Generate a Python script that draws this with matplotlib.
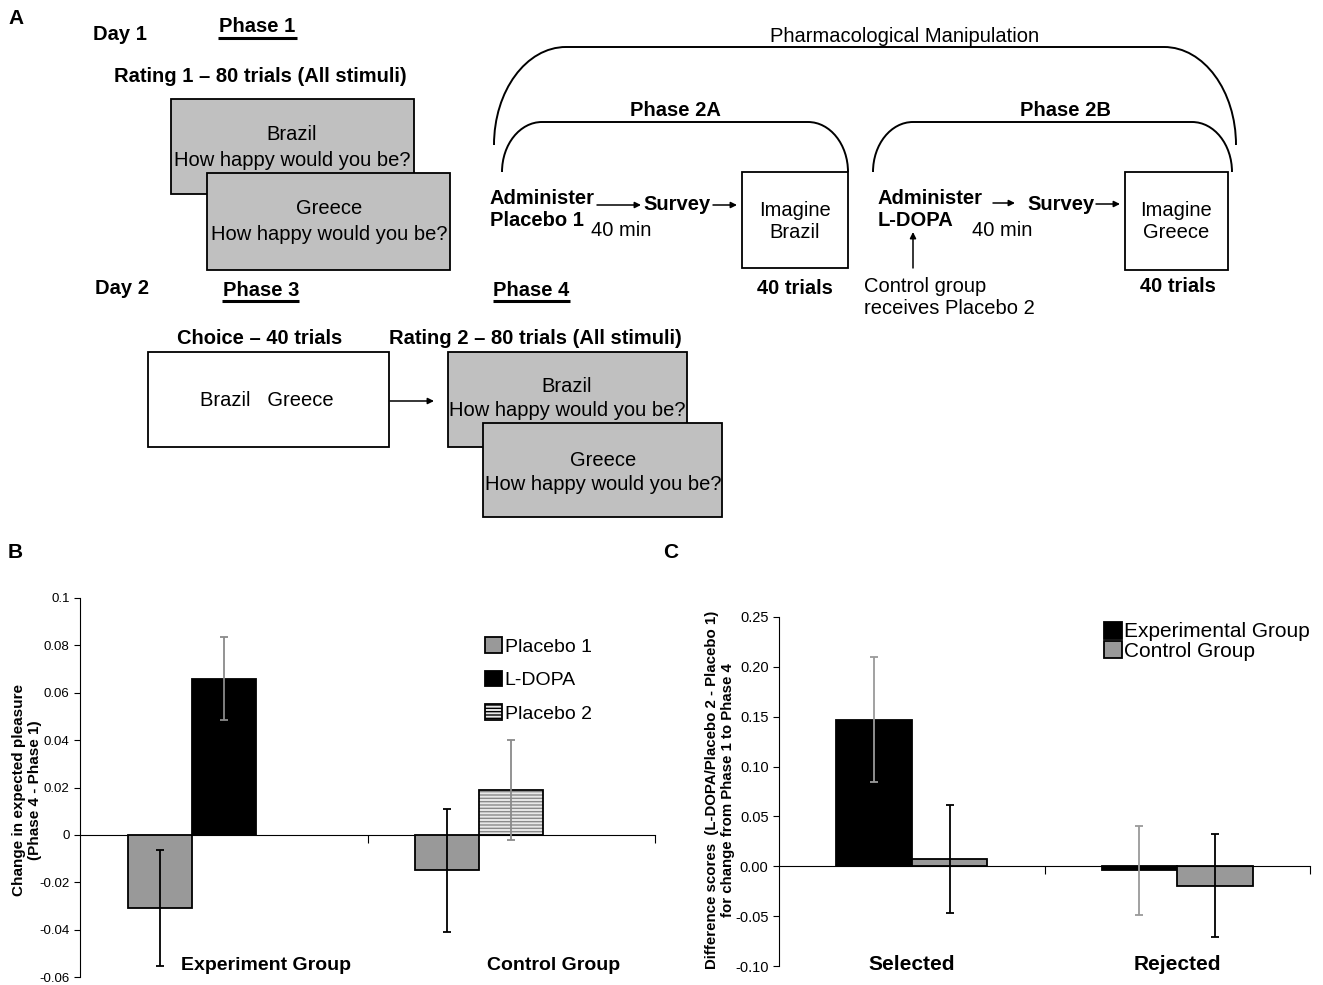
import numpy as np
import matplotlib
matplotlib.use('Agg')
import matplotlib.pyplot as plt
import matplotlib.transforms as mtransforms
from matplotlib.patches import Rectangle, Patch, PathPatch
from matplotlib.path import Path

plt.rcParams['font.family'] = ['Liberation Sans', 'DejaVu Sans']

# ---- data, panel B ----
groups_b = ['Experiment Group', 'Control Group']
placebo1_b = [-0.031, -0.015]
placebo1_err_b = [0.0245, 0.026]
# second drug slot: L-DOPA for the experiment group, Placebo 2 for control
drug_b = [0.066, 0.019]
drug_err_b = [0.0175, 0.021]
legend_b = ['Placebo 1', 'L-DOPA', 'Placebo 2']
yticks_b = [-0.06, -0.04, -0.02, 0, 0.02, 0.04, 0.06, 0.08, 0.1]
yticklabels_b = ['-0.06', '-0.04', '-0.02', '0', '0.02', '0.04', '0.06', '0.08', '0.1']

# ---- data, panel C ----
conds_c = ['Selected', 'Rejected']
exp_c = [0.147, -0.004]
exp_err_c = [0.0625, 0.0445]
ctrl_c = [0.007, -0.0195]
ctrl_err_c = [0.054, 0.0515]
legend_c = ['Experimental Group', 'Control Group']
yticks_c = [-0.10, -0.05, 0.0, 0.05, 0.10, 0.15, 0.20, 0.25]

GREY = '#999999'
W, H = 1323, 985
fig = plt.figure(figsize=(W / 100, H / 100), dpi=100)

# ================= panel A : the design diagram (pixel coords) =================
axA = fig.add_axes([0, 0, 1, 1])
axA.set_xlim(0, W)
axA.set_ylim(H, 0)
axA.axis('off')

FS = 14.5


def txt(x, y, s, bold=False, ha='center', size=FS):
    axA.text(x, y, s, ha=ha, va='center', fontsize=size,
             fontweight='bold' if bold else 'normal', linespacing=1.2)


def box(x0, y0, x1, y1, fc):
    axA.add_patch(Rectangle((x0, y0), x1 - x0, y1 - y0, facecolor=fc,
                            edgecolor='k', lw=1.3))


def arrow(x0, y0, x1, y1):
    axA.annotate('', xy=(x1, y1), xytext=(x0, y0),
                 arrowprops=dict(arrowstyle='-|>', color='k', lw=1.1,
                                 mutation_scale=9, shrinkA=0, shrinkB=0))


def underline(x0, x1, y):
    axA.plot([x0, x1], [y, y], color='k', lw=2.2, solid_capstyle='butt')


def bracket(x0, x1, yb0, yb1, ytop, rx):
    k = 0.5523
    verts = [(x0, yb0), (x0, yb0 - k * (yb0 - ytop)), (x0 + rx - k * rx, ytop), (x0 + rx, ytop),
             (x1 - rx, ytop),
             (x1 - rx + k * rx, ytop), (x1, yb1 - k * (yb1 - ytop)), (x1, yb1)]
    codes = [Path.MOVETO, Path.CURVE4, Path.CURVE4, Path.CURVE4, Path.LINETO,
             Path.CURVE4, Path.CURVE4, Path.CURVE4]
    axA.add_patch(PathPatch(Path(verts, codes), fill=False, lw=1.4, edgecolor='k'))


fig.text(8 / W, 1 - 18 / H, 'A', fontsize=15, fontweight='bold', ha='left', va='center')

# day 1
txt(93, 35, 'Day 1', bold=True, ha='left')
txt(257, 26, 'Phase 1', bold=True)
underline(218, 297, 38)
txt(260, 76, 'Rating 1 \u2013 80 trials (All stimuli)', bold=True)
box(171, 99, 414, 194, '#c0c0c0')
txt(292, 135, 'Brazil')
txt(292, 160, 'How happy would you be?')
box(207, 173, 450, 270, '#c0c0c0')
txt(329, 209, 'Greece')
txt(329, 234, 'How happy would you be?')

# day 2
txt(95, 289, 'Day 2', bold=True, ha='left')
txt(261, 290, 'Phase 3', bold=True)
underline(222, 299, 301)
txt(531, 290, 'Phase 4', bold=True)
underline(493, 570, 301)
txt(260, 338, 'Choice \u2013 40 trials', bold=True)
txt(535, 338, 'Rating 2 \u2013 80 trials (All stimuli)', bold=True)
box(148, 352, 389, 447, 'white')
txt(267, 401, 'Brazil   Greece')
arrow(390, 401, 434, 401)
box(448, 352, 687, 447, '#c0c0c0')
txt(567, 386, 'Brazil')
txt(567, 411, 'How happy would you be?')
box(483, 423, 722, 517, '#c0c0c0')
txt(603, 460, 'Greece')
txt(603, 484, 'How happy would you be?')

# pharmacological manipulation
txt(905, 37, 'Pharmacological Manipulation')
bracket(494, 1236, 145, 145, 47, 72)
txt(675, 110, 'Phase 2A', bold=True)
bracket(502, 848, 172, 172, 122, 40)
txt(1065, 110, 'Phase 2B', bold=True)
bracket(873, 1232, 172, 172, 122, 40)

txt(490, 210, 'Administer\nPlacebo 1', bold=True, ha='left')
arrow(597, 205, 641, 205)
txt(643, 205, 'Survey', bold=True, ha='left')
arrow(713, 205, 737, 205)
txt(591, 230, '40 min', ha='left')
box(742, 172, 848, 268, 'white')
txt(795, 221, 'Imagine\nBrazil')
txt(795, 288, '40 trials', bold=True)

txt(878, 210, 'Administer\nL-DOPA', bold=True, ha='left')
arrow(993, 203, 1015, 203)
txt(1027, 204, 'Survey', bold=True, ha='left')
arrow(1096, 204, 1120, 204)
txt(972, 230, '40 min', ha='left')
arrow(913, 268, 913, 232)
txt(864, 298, 'Control group\nreceives Placebo 2', ha='left')
box(1125, 172, 1228, 270, 'white')
txt(1176, 221, 'Imagine\nGreece')
txt(1178, 286, '40 trials', bold=True)

# ================= panel B =================
fig.text(8 / W, 1 - 552 / H, 'B', fontsize=15, fontweight='bold', ha='left', va='center')
axB = fig.add_axes([80 / W, 1 - 977 / H, 575 / W, 379 / H])
x = np.arange(len(groups_b))
slot = 0.2226
axB.bar(x - slot, placebo1_b, slot, color=GREY, edgecolor='k', lw=1.3, zorder=2)
axB.bar(x[0], drug_b[0], slot, color='k', edgecolor='k', lw=1.3, zorder=2)
axB.bar(x[1], drug_b[1], slot, color='#e8e8e8', edgecolor='#8a8a8a', hatch='-----', lw=0, zorder=2)
axB.bar(x[1], drug_b[1], slot, fill=False, edgecolor='k', lw=1.3, zorder=2)
axB.errorbar(x - slot, placebo1_b, yerr=placebo1_err_b, fmt='none', ecolor='k',
             capsize=3, elinewidth=1.3, capthick=1.3, zorder=3)
axB.errorbar(x, drug_b, yerr=drug_err_b, fmt='none', ecolor='#8a8a8a',
             capsize=3, elinewidth=1.3, capthick=1.3, zorder=3)
axB.set_xlim(-0.5, 1.5)
axB.set_ylim(-0.06, 0.1)
axB.set_yticks(yticks_b)
axB.set_yticklabels(yticklabels_b)
axB.set_xticks([0.5, 1.5])
axB.set_xticklabels(['', ''])
for s in ['top', 'right']:
    axB.spines[s].set_visible(False)
axB.spines['bottom'].set_position(('data', 0))
axB.spines['bottom'].set_zorder(1)
axB.tick_params(axis='y', labelsize=9.5, length=4)
axB.tick_params(axis='x', length=6, direction='out')
axB.patch.set_alpha(0)
trB = mtransforms.blended_transform_factory(axB.transData, fig.transFigure)
for i, g in enumerate(groups_b):
    axB.text(x[i] + 0.147, 1 - 965 / H, g, transform=trB, ha='center', va='center',
             fontsize=14, fontweight='bold')
hB = [Patch(facecolor=GREY, edgecolor='k', lw=1.3),
      Patch(facecolor='k', edgecolor='k', lw=1.3),
      Patch(facecolor='#e8e8e8', edgecolor='k', hatch='-----', lw=1.3)]
axB.legend(hB, legend_b, loc='upper left', bbox_to_anchor=(0.705, 0.897), frameon=False,
           fontsize=14, handlelength=0.85, handleheight=0.85, handletextpad=0.15,
           labelspacing=0.78, borderpad=0, borderaxespad=0)
fig.text(27 / W, 1 - 790 / H, 'Change in expected pleasure\n(Phase 4 - Phase 1)', rotation=90,
         ha='center', va='center', fontsize=11, fontweight='bold', multialignment='center')

# ================= panel C =================
fig.text(663 / W, 1 - 552 / H, 'C', fontsize=15, fontweight='bold', ha='left', va='center')
axC = fig.add_axes([779 / W, 1 - 966 / H, 531 / W, 349 / H])
xc = np.arange(len(conds_c))
w = 0.285
axC.bar(xc - w / 2, exp_c, w, color='k', edgecolor='k', lw=1.3, zorder=2)
axC.bar(xc + w / 2, ctrl_c, w, color=GREY, edgecolor='k', lw=1.3, zorder=2)
axC.errorbar(xc - w / 2, exp_c, yerr=exp_err_c, fmt='none', ecolor='#9a9a9a',
             capsize=3, elinewidth=1.3, capthick=1.3, zorder=3)
axC.errorbar(xc + w / 2, ctrl_c, yerr=ctrl_err_c, fmt='none', ecolor='k',
             capsize=3, elinewidth=1.3, capthick=1.3, zorder=3)
axC.set_xlim(-0.5, 1.5)
axC.set_ylim(-0.10, 0.25)
axC.set_yticks(yticks_c)
axC.set_yticklabels(['%.2f' % v for v in yticks_c])
axC.set_xticks([0.5, 1.5])
axC.set_xticklabels(['', ''])
for s in ['top', 'right']:
    axC.spines[s].set_visible(False)
axC.spines['bottom'].set_position(('data', 0))
axC.tick_params(axis='y', labelsize=10.5, length=4)
axC.tick_params(axis='x', length=6, direction='out')
axC.patch.set_alpha(0)
trC = mtransforms.blended_transform_factory(axC.transData, fig.transFigure)
for i, c in enumerate(conds_c):
    axC.text(xc[i], 1 - 965 / H, c, transform=trC, ha='center', va='center',
             fontsize=15, fontweight='bold')
hC = [Patch(facecolor='k', edgecolor='k', lw=1.3),
      Patch(facecolor=GREY, edgecolor='k', lw=1.3)]
axC.legend(hC, legend_c, loc='upper left', bbox_to_anchor=(0.612, 0.986), frameon=False,
           fontsize=15, handlelength=0.85, handleheight=0.85, handletextpad=0.1,
           labelspacing=0.0, borderpad=0, borderaxespad=0)
fig.text(720 / W, 1 - 790 / H,
         'Difference scores  (L-DOPA/Placebo 2 - Placebo 1)\nfor change from Phase 1 to Phase 4',
         rotation=90, ha='center', va='center', fontsize=10.8, fontweight='bold',
         multialignment='center')

fig.savefig('out.png', dpi=100)
